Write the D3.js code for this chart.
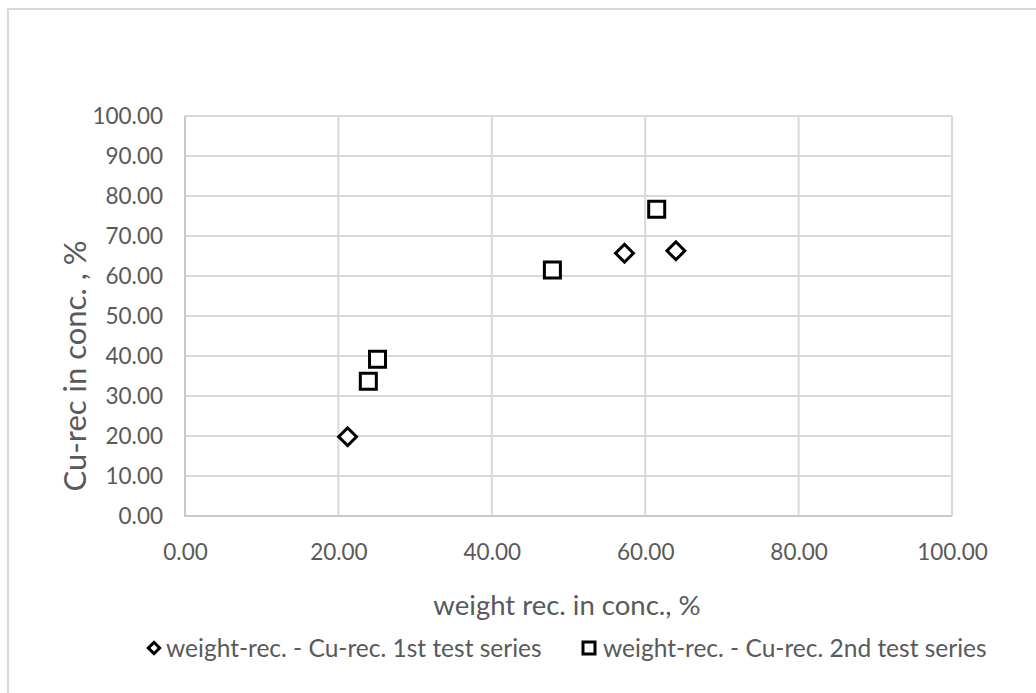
<!DOCTYPE html>
<html>
<head>
<meta charset="utf-8">
<script src="https://cdn.jsdelivr.net/npm/d3@7"></script>
<style>
  html, body { margin: 0; padding: 0; background: #fff; }
  svg { display: block; }
  text { font-family: Lato, "Open Sans", sans-serif; fill: #595959; }
</style>
</head>
<body>
<svg id="chart" width="1036" height="693"></svg>
<script>
// Recovery data: weight recovery vs Cu recovery in concentrate (%)
const series1Name = "weight-rec. - Cu-rec. 1st test series";
const series1Weight = [21.2, 57.3, 64.0];
const series1Cu = [19.8, 65.7, 66.3];

const series2Name = "weight-rec. - Cu-rec. 2nd test series";
const series2Weight = [23.9, 25.1, 47.9, 61.5];
const series2Cu = [33.7, 39.2, 61.5, 76.7];

const xTicks = [0, 20, 40, 60, 80, 100];
const yTicks = [0, 10, 20, 30, 40, 50, 60, 70, 80, 90, 100];

const xTitle = "weight rec. in conc., %";
const yTitle = "Cu-rec in conc. , %";

const svg = d3.select("#chart");
const W = 1036, H = 693;
const plot = { left: 185, right: 952, top: 116, bottom: 516 };

// chart frame (top and left edges)
svg.append("path")
  .attr("d", `M8,${H} L8,9 L${W},9`)
  .attr("fill", "none")
  .attr("stroke", "#d9d9d9")
  .attr("stroke-width", 2);

const x = d3.scaleLinear().domain([0, 100]).range([plot.left, plot.right]);
const y = d3.scaleLinear().domain([0, 100]).range([plot.bottom, plot.top]);

// gridlines
const grid = svg.append("g");
grid.selectAll("line.h").data(yTicks).join("line")
  .attr("x1", plot.left).attr("x2", plot.right)
  .attr("y1", d => y(d)).attr("y2", d => y(d))
  .attr("stroke", "#d9d9d9").attr("stroke-width", 2);
grid.selectAll("line.v").data(xTicks).join("line")
  .attr("y1", plot.top).attr("y2", plot.bottom)
  .attr("x1", d => x(d)).attr("x2", d => x(d))
  .attr("stroke", "#d9d9d9").attr("stroke-width", 2);

// axis lines
svg.append("path")
  .attr("d", `M${plot.left},${plot.top} L${plot.left},${plot.bottom} L${plot.right},${plot.bottom}`)
  .attr("fill", "none").attr("stroke", "#c8c8c8").attr("stroke-width", 2);

// axes (labels only)
const fmt = d3.format(".2f");
const yAxis = d3.axisLeft(y).tickValues(yTicks).tickFormat(fmt).tickSize(0).tickPadding(22);
const yg = svg.append("g").attr("transform", `translate(${plot.left},0)`).call(yAxis);
yg.select(".domain").remove();
yg.selectAll("text").attr("font-size", 22.5).attr("fill", "#595959")
  .style("font-family", "Lato, sans-serif");

const xAxis = d3.axisBottom(x).tickValues(xTicks).tickFormat(fmt).tickSize(0).tickPadding(28);
const xg = svg.append("g").attr("transform", `translate(0,${plot.bottom})`).call(xAxis);
xg.select(".domain").remove();
xg.selectAll("text").attr("font-size", 22.5).attr("fill", "#595959")
  .style("font-family", "Lato, sans-serif");

// axis titles
svg.append("text")
  .attr("transform", `translate(86,366) rotate(-90)`)
  .attr("text-anchor", "middle")
  .attr("font-size", 31)
  .text(yTitle);

svg.append("text")
  .attr("x", 567).attr("y", 615)
  .attr("text-anchor", "middle")
  .attr("font-size", 27.5)
  .text(xTitle);

// markers
const squarePath = d3.symbol().type(d3.symbolSquare).size(256);
const diamondPath = d3.symbol().type(d3.symbolSquare).size(160);

const s1 = series1Weight.map((w, i) => ({ x: w, y: series1Cu[i] }));
const s2 = series2Weight.map((w, i) => ({ x: w, y: series2Cu[i] }));

svg.append("g").selectAll("path").data(s1).join("path")
  .attr("d", diamondPath())
  .attr("transform", d => `translate(${x(d.x)},${y(d.y)}) rotate(45)`)
  .attr("fill", "#fff").attr("stroke", "#000").attr("stroke-width", 3);

svg.append("g").selectAll("path").data(s2).join("path")
  .attr("d", squarePath())
  .attr("transform", d => `translate(${x(d.x)},${y(d.y)})`)
  .attr("fill", "#fff").attr("stroke", "#000").attr("stroke-width", 3);

// legend
const legend = svg.append("g");
const legY = 648;
legend.append("path")
  .attr("d", d3.symbol().type(d3.symbolSquare).size(64)())
  .attr("transform", `translate(154,${legY}) rotate(45)`)
  .attr("fill", "#fff").attr("stroke", "#000").attr("stroke-width", 3);
legend.append("text")
  .attr("x", 166).attr("y", legY).attr("dy", "0.35em")
  .attr("font-size", 24.5)
  .text(series1Name);
legend.append("path")
  .attr("d", d3.symbol().type(d3.symbolSquare).size(144)())
  .attr("transform", `translate(589,${legY})`)
  .attr("fill", "#fff").attr("stroke", "#000").attr("stroke-width", 3);
legend.append("text")
  .attr("x", 603).attr("y", legY).attr("dy", "0.35em")
  .attr("font-size", 24.5)
  .text(series2Name);
</script>
</body>
</html>
